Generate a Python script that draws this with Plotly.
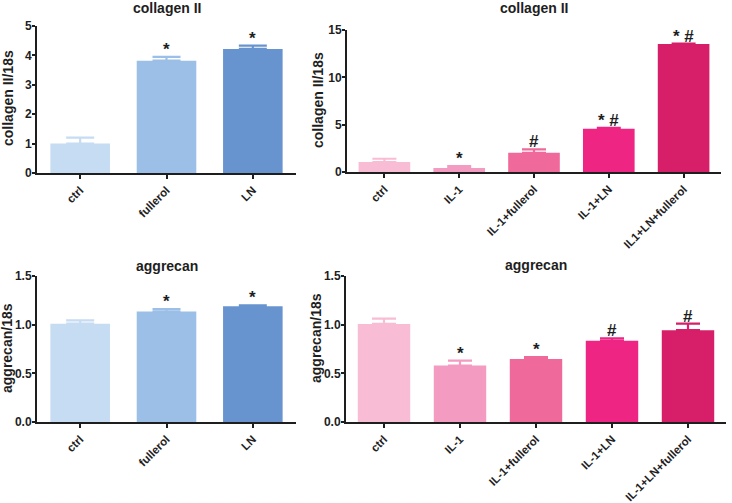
import plotly.graph_objects as go

# ---- data ----
cats_a = ["ctrl", "fullerol", "LN"]
col_a = [1.0, 3.82, 4.22]
col_a_err = [0.20, 0.13, 0.11]
col_a_sig = ["", "*", "*"]
agg_a = [1.01, 1.135, 1.19]
agg_a_err = [0.035, 0.025, 0.008]
agg_a_sig = ["", "*", "*"]

cats_b = ["ctrl", "IL-1", "IL-1+fullerol", "IL-1+LN", "IL1+LN+fullerol"]
cats_b2 = ["ctrl", "IL-1", "IL-1+fullerol", "IL-1+LN", "IL-1+LN+fullerol"]
col_b = [1.05, 0.42, 2.03, 4.56, 13.53]
col_b_err = [0.35, 0.21, 0.35, 0.10, 0.03]
col_b_sig = ["", "*", "#", "* #", "* #"]
agg_b = [1.008, 0.58, 0.648, 0.835, 0.943]
agg_b_err = [0.054, 0.05, 0.02, 0.024, 0.068]
agg_b_sig = ["", "*", "*", "#", "#"]

blues = ["#c6dcf3", "#9bbfe6", "#6794cf"]
pinks = ["#f8bcd4", "#f39bc1", "#ef6a9b", "#ee2582", "#d61e69"]

FONT = "Liberation Sans, Arial, sans-serif"
INK = "#1e1e1e"
W, H = 732, 503


def px_x(sx):
    return sx / W


def px_y(sy):
    return 1 - sy / H


fig = go.Figure()

panels = [
    # cats, vals, errs, sigs, colors, sfx, title, ytitle, yrange, dtick, fmt,
    # x px span, y px span (bottom, top), capw, title_y_px, ytitle_xy_px
    (cats_a, col_a, col_a_err, col_a_sig, blues, "", "collagen II", "collagen II/18s", [0, 5], 1, "d",
     (37, 296), (173, 26), 14, 8, (8, 98)),
    (cats_b, col_b, col_b_err, col_b_sig, pinks, "2", "collagen II", "collagen II/18s", [0, 15], 5, "d",
     (347, 721), (172, 30), 12, 8, (318, 100)),
    (cats_a, agg_a, agg_a_err, agg_a_sig, blues, "3", "aggrecan", "aggrecan/18s", [0, 1.5], 0.5, ".1f",
     (37, 296), (422, 276), 14, 266, (7, 348)),
    (cats_b2, agg_b, agg_b_err, agg_b_sig, pinks, "4", "aggrecan", "aggrecan/18s", [0, 1.5], 0.5, ".1f",
     (346, 726), (422, 276), 12, 265, (316, 338)),
]

for (cats, vals, errs, sigs, colors, sfx, title, ytitle, yr, dt, tf, xs, ys, capw, typx, ytxy) in panels:
    xa = "x" + sfx
    ya = "y" + sfx
    xd = [px_x(xs[0]), px_x(xs[1])]
    yd = [px_y(ys[0]), px_y(ys[1])]
    for i, c in enumerate(cats):
        fig.add_trace(go.Bar(
            x=[c], y=[vals[i]], xaxis=xa, yaxis=ya,
            marker=dict(color=colors[i], line=dict(width=0)),
            width=0.69,
            error_y=dict(type="data", array=[errs[i]], arrayminus=[0], symmetric=False,
                         color=colors[i], thickness=2.2, width=capw),
            showlegend=False, hoverinfo="skip",
        ))
        if sigs[i]:
            fig.add_annotation(x=c, y=vals[i] + errs[i], xref=xa, yref=ya,
                               text="<b>" + sigs[i] + "</b>", showarrow=False,
                               xanchor="center", yanchor="bottom", yshift=-4,
                               font=dict(family=FONT, size=17, color=INK))
    xkey = "xaxis" + sfx
    ykey = "yaxis" + sfx
    fig.update_layout({
        xkey: dict(domain=xd, anchor=ya, range=[-0.5, len(cats) - 0.5], type="category",
                   categoryorder="array", categoryarray=cats, automargin=False,
                   showline=True, linecolor=INK, linewidth=2,
                   ticks="outside", ticklen=4, tickwidth=2, tickcolor=INK,
                   tickangle=-45, showgrid=False, zeroline=False,
                   tickfont=dict(family=FONT, size=11.5, color=INK, weight="bold")),
        ykey: dict(domain=yd, anchor=xa, range=yr, dtick=dt, tickformat=tf,
                   automargin=False, ticklabelstandoff=-2,
                   showline=True, linecolor=INK, linewidth=2,
                   ticks="outside", ticklen=3, tickwidth=2, tickcolor=INK,
                   showgrid=False, zeroline=False,
                   tickfont=dict(family=FONT, size=12, color=INK, weight="bold")),
    })
    fig.add_annotation(x=(xd[0] + xd[1]) / 2, y=px_y(typx),
                       xref="paper", yref="paper", xanchor="center", yanchor="middle",
                       text="<b>" + title + "</b>", showarrow=False,
                       font=dict(family=FONT, size=14, color=INK))
    fig.add_annotation(x=px_x(ytxy[0]), y=px_y(ytxy[1]),
                       xref="paper", yref="paper", xanchor="center", yanchor="middle",
                       text="<b>" + ytitle + "</b>", showarrow=False, textangle=-90,
                       font=dict(family=FONT, size=14, color=INK))

fig.update_layout(
    width=W, height=H,
    margin=dict(l=0, r=0, t=0, b=0),
    paper_bgcolor="white", plot_bgcolor="white",
    barmode="overlay",
    font=dict(family=FONT, color=INK),
)

fig.write_html("out.html", config={"displayModeBar": False},
               post_script="document.body.style.margin='0';")
